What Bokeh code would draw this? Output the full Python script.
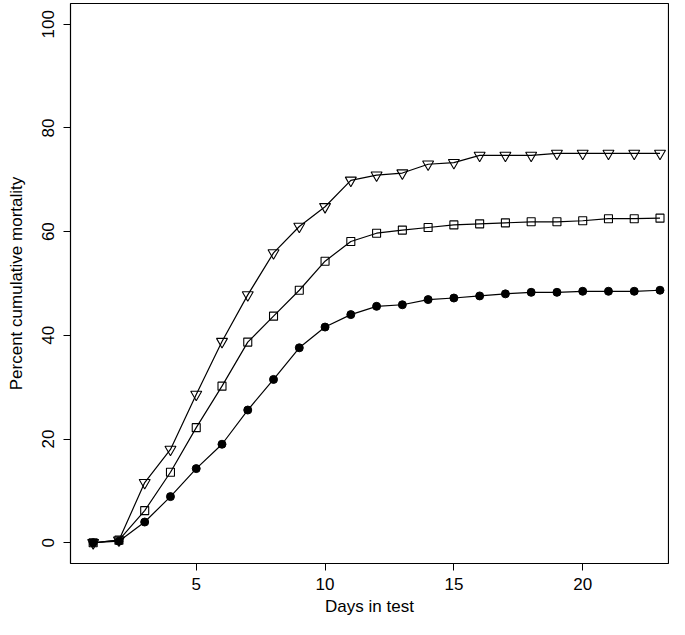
from bokeh.plotting import figure
from bokeh.models import Range1d, FixedTicker
from bokeh.embed import file_html
from bokeh.resources import INLINE

days = list(range(1, 24))
tri = [0, 0.5, 11.6, 18.0, 28.6, 38.8, 47.8, 55.9, 61.0, 64.8, 69.9, 70.9,
       71.3, 73.0, 73.3, 74.7, 74.7, 74.7, 75.1, 75.1, 75.1, 75.1, 75.1]
sq = [0, 0.5, 6.2, 13.6, 22.2, 30.2, 38.7, 43.7, 48.7, 54.3, 58.1, 59.7,
      60.3, 60.8, 61.3, 61.5, 61.7, 61.9, 61.9, 62.1, 62.5, 62.5, 62.6]
circ = [0, 0.3, 4.0, 8.9, 14.3, 19.0, 25.6, 31.5, 37.6, 41.6, 44.0, 45.6,
        45.9, 46.9, 47.2, 47.6, 48.0, 48.3, 48.3, 48.5, 48.5, 48.5, 48.7]
x_ticks = [5, 10, 15, 20]
y_ticks = [0, 20, 40, 60, 80, 100]

FONT = "Liberation Sans"

p = figure(width=669, height=619, output_backend="svg", toolbar_location=None,
           x_range=Range1d(0.12, 23.33), y_range=Range1d(-4, 104),
           min_border_left=70, min_border_right=1, min_border_top=3,
           min_border_bottom=56)
p.grid.visible = False
p.background_fill_color = "white"
p.border_fill_color = "white"
p.outline_line_color = "black"
p.outline_line_width = 1.2

for ax in (p.xaxis[0], p.yaxis[0]):
    ax.axis_line_color = None
    ax.major_tick_in = 0
    ax.major_tick_out = 7
    ax.major_tick_line_color = "black"
    ax.major_tick_line_width = 1
    ax.minor_tick_line_color = None
    ax.major_label_text_font = FONT
    ax.major_label_text_font_size = "17px"
    ax.major_label_text_color = "black"
    ax.axis_label_text_font = FONT
    ax.axis_label_text_font_size = "17px"
    ax.axis_label_text_font_style = "normal"
    ax.axis_label_text_color = "black"

p.xaxis.ticker = FixedTicker(ticks=x_ticks)
p.yaxis.ticker = FixedTicker(ticks=y_ticks)
p.xaxis.axis_label = "Days in test"
p.yaxis.axis_label = "Percent cumulative mortality"
p.yaxis.major_label_orientation = "vertical"
p.xaxis.major_label_standoff = 7
p.xaxis.axis_label_standoff = 4
p.yaxis.major_label_standoff = 9
p.yaxis.axis_label_standoff = 14

for ys in (tri, sq, circ):
    p.line(days, ys, line_color="black", line_width=1.2)

p.scatter(days, tri, marker="inverted_triangle", size=11, fill_color=None,
          line_color="black", line_width=1.1)
p.scatter(days, sq, marker="square", size=8, fill_color=None,
          line_color="black", line_width=1.1)
p.scatter(days, circ, marker="circle", size=8, fill_color="black",
          line_color="black")

open("out.html", "w").write(file_html(p, INLINE))
